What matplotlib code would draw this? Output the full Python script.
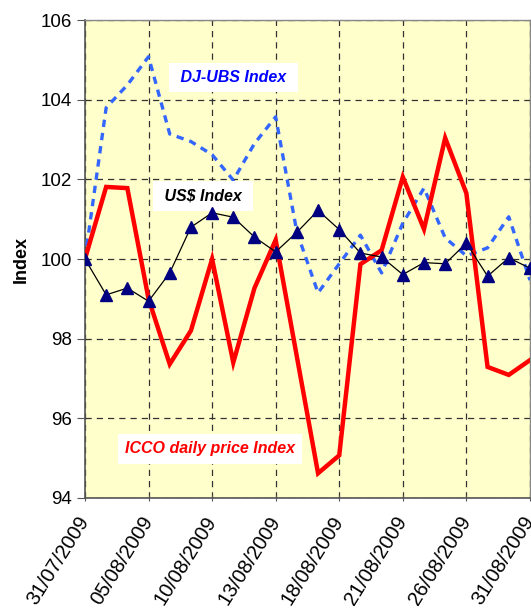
import numpy as np
import matplotlib
matplotlib.use('Agg')
import matplotlib.pyplot as plt

plt.rcParams['font.family'] = ['Liberation Sans', 'DejaVu Sans']

dates = ['31/07/2009', '03/08/2009', '04/08/2009', '05/08/2009', '06/08/2009',
         '07/08/2009', '10/08/2009', '11/08/2009', '12/08/2009', '13/08/2009',
         '14/08/2009', '17/08/2009', '18/08/2009', '19/08/2009', '20/08/2009',
         '21/08/2009', '24/08/2009', '25/08/2009', '26/08/2009', '27/08/2009',
         '28/08/2009', '31/08/2009']

icco = [100.0, 101.81, 101.78, 99.0, 97.36, 98.2, 100.0, 97.4, 99.27, 100.48,
        97.55, 94.62, 95.07, 99.87, 100.22, 102.06, 100.75, 103.04, 101.65,
        97.29, 97.09, 97.46]
usd = [100.0, 99.1, 99.27, 98.94, 99.65, 100.8, 101.16, 101.05, 100.55, 100.18,
       100.67, 101.22, 100.74, 100.15, 100.05, 99.61, 99.91, 99.88, 100.4,
       99.57, 100.03, 99.77]
djubs = [100.0, 103.8, 104.37, 105.08, 103.14, 102.95, 102.62, 101.98, 102.9,
         103.57, 100.68, 99.15, 99.88, 100.6, 99.65, 100.9, 101.78, 100.53,
         100.08, 100.28, 101.06, 99.47]

x = np.arange(len(dates))
tick_idx = list(range(0, len(dates), 3))

fig = plt.figure(figsize=(5.31, 6.08), dpi=100)
ax = fig.add_axes([0.160, 0.181, 0.838, 0.786])
ax.set_facecolor('#FFFFCC')

ax.plot(x, djubs, color='#3366FF', lw=2.4, linestyle=(0, (2.2, 1.8)), zorder=3)
ax.plot(x, icco, color='#FF0000', lw=3.2, zorder=4, solid_joinstyle='miter')
ax.plot(x, usd, color='black', lw=0.9, marker='^', markersize=8,
        markerfacecolor='#000080', markeredgecolor='#000080', zorder=5)

ax.set_xlim(0, len(dates) - 1)
ax.set_ylim(94, 106)
ax.set_yticks(np.arange(94, 107, 2))
ax.set_xticks(tick_idx)
ax.set_xticklabels([dates[i] for i in tick_idx], rotation=58, ha='right',
                   va='center', rotation_mode='anchor', fontsize=14.5)
ax.tick_params(axis='y', labelsize=13.5, length=6, direction='out', color='#555555')
ax.tick_params(axis='x', length=5, direction='inout', color='#555555', pad=12)

ax.grid(True, color='#333333', linestyle=(0, (5, 4)), lw=0.9)
ax.set_axisbelow(True)
for side in ['left', 'bottom']:
    ax.spines[side].set_color('#555555')
    ax.spines[side].set_linewidth(1.2)
for side in ['top', 'right']:
    ax.spines[side].set_color('#888888')
    ax.spines[side].set_linewidth(1.0)

ax.set_ylabel('Index', fontsize=13, fontweight='bold', labelpad=8)

box = dict(facecolor='white', edgecolor='none', boxstyle='square,pad=0.45')
ax.text(7.0, 104.55, ' DJ-UBS Index ', color='#0000FF', fontsize=11.5,
        fontweight='bold', fontstyle='italic', ha='center', va='center', bbox=box)
ax.text(5.57, 101.58, ' US$ Index ', color='black', fontsize=11.5,
        fontweight='bold', fontstyle='italic', ha='center', va='center', bbox=box)
ax.text(5.9, 95.23, 'ICCO daily price Index', color='#FF0000', fontsize=11.5,
        fontweight='bold', fontstyle='italic', ha='center', va='center', bbox=box)

fig.savefig('out.png', dpi=100)
